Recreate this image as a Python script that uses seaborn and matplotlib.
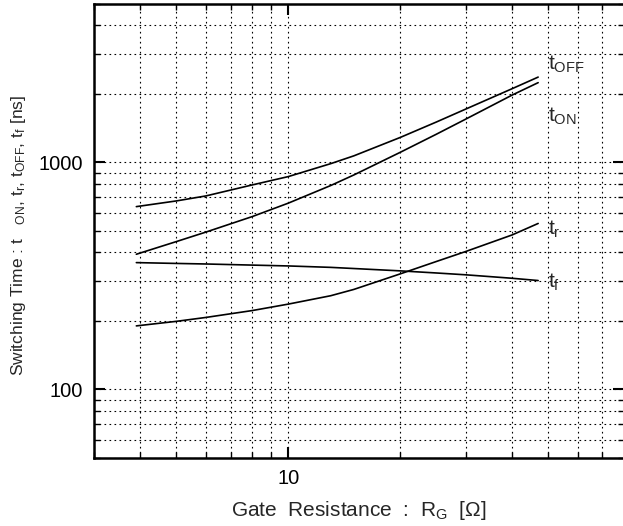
import numpy as np
import pandas as pd
import seaborn as sns
import matplotlib.pyplot as plt
from matplotlib.ticker import LogLocator, NullFormatter, FixedLocator, FixedFormatter

# Gate resistance values [ohm] and switching times [ns]
rg = [3.9, 5, 6, 8, 10, 13, 15, 20, 25, 30, 40, 47]
t_off = [637, 675, 710, 794, 864, 985, 1066, 1285, 1502, 1713, 2107, 2370]
t_on = [393, 447, 492, 576, 660, 789, 878, 1105, 1327, 1547, 1975, 2240]
t_r = [190, 199, 207, 222, 237, 258, 275, 322, 365, 404, 478, 537]
t_f = [361, 358, 356, 352, 349, 344, 340, 332, 325, 319, 308, 301]

series = ['t_OFF', 't_ON', 't_r', 't_f']
label_text = ['t$_{\\mathregular{OFF}}$', 't$_{\\mathregular{ON}}$',
              't$_{\\mathregular{r}}$', 't$_{\\mathregular{f}}$']
label_y = [2551, 1505, 478, 279]

df = pd.DataFrame({
    'Rg': rg * 4,
    'time': t_off + t_on + t_r + t_f,
    'series': np.repeat(series, len(rg)),
})

sns.set_style('ticks')
plt.rcParams['font.family'] = ['Liberation Sans', 'DejaVu Sans']
plt.rcParams['mathtext.default'] = 'regular'

fig = plt.figure(figsize=(6.23, 5.26), dpi=100)
ax = fig.add_axes([94 / 623, 68.5 / 526, 530 / 623, 454 / 526])

sns.lineplot(data=df, x='Rg', y='time', hue='series', palette=['black'] * 4,
             linewidth=1.2, legend=False, ax=ax, sort=False, estimator=None)

ax.set_xscale('log')
ax.set_yscale('log')
ax.set_xlim(3, 80)
ax.set_ylim(50, 5000)

# ticks: only 10 on x, 100 and 1000 on y get labels
ax.xaxis.set_major_locator(FixedLocator([10]))
ax.xaxis.set_major_formatter(FixedFormatter(['10']))
ax.xaxis.set_minor_locator(LogLocator(base=10, subs=np.arange(2, 10), numticks=20))
ax.xaxis.set_minor_formatter(NullFormatter())
ax.yaxis.set_major_locator(FixedLocator([100, 1000]))
ax.yaxis.set_major_formatter(FixedFormatter(['100', '1000']))
ax.yaxis.set_minor_locator(LogLocator(base=10, subs=np.arange(2, 10), numticks=20))
ax.yaxis.set_minor_formatter(NullFormatter())

ax.tick_params(which='both', direction='in', top=True, right=True, colors='black')
ax.tick_params(which='major', length=8, width=1.5, labelsize=14.5, pad=8)
ax.tick_params(which='minor', length=4, width=1.0)

ax.grid(True, which='both', color='black', linewidth=0.8, linestyle=(0, (1.5, 3)))

for side in ['left', 'right', 'top', 'bottom']:
    ax.spines[side].set_visible(True)
    ax.spines[side].set_color('black')
    ax.spines[side].set_linewidth(1.8)

for txt, yv in zip(label_text, label_y):
    ax.text(50, yv, txt, fontsize=15, ha='left', va='baseline')

ax.set_xlabel('Gate  Resistance  :  R$_{G}$  [$\\Omega$]', fontsize=15, labelpad=8)
ax.set_ylabel('Switching Time : t   $_{ON}$, t$_{r}$, t$_{OFF}$, t$_{f}$ [ns]',
              fontsize=12.5)
ax.yaxis.set_label_coords(-0.124, 0.49)

fig.savefig('out.png', dpi=100)
